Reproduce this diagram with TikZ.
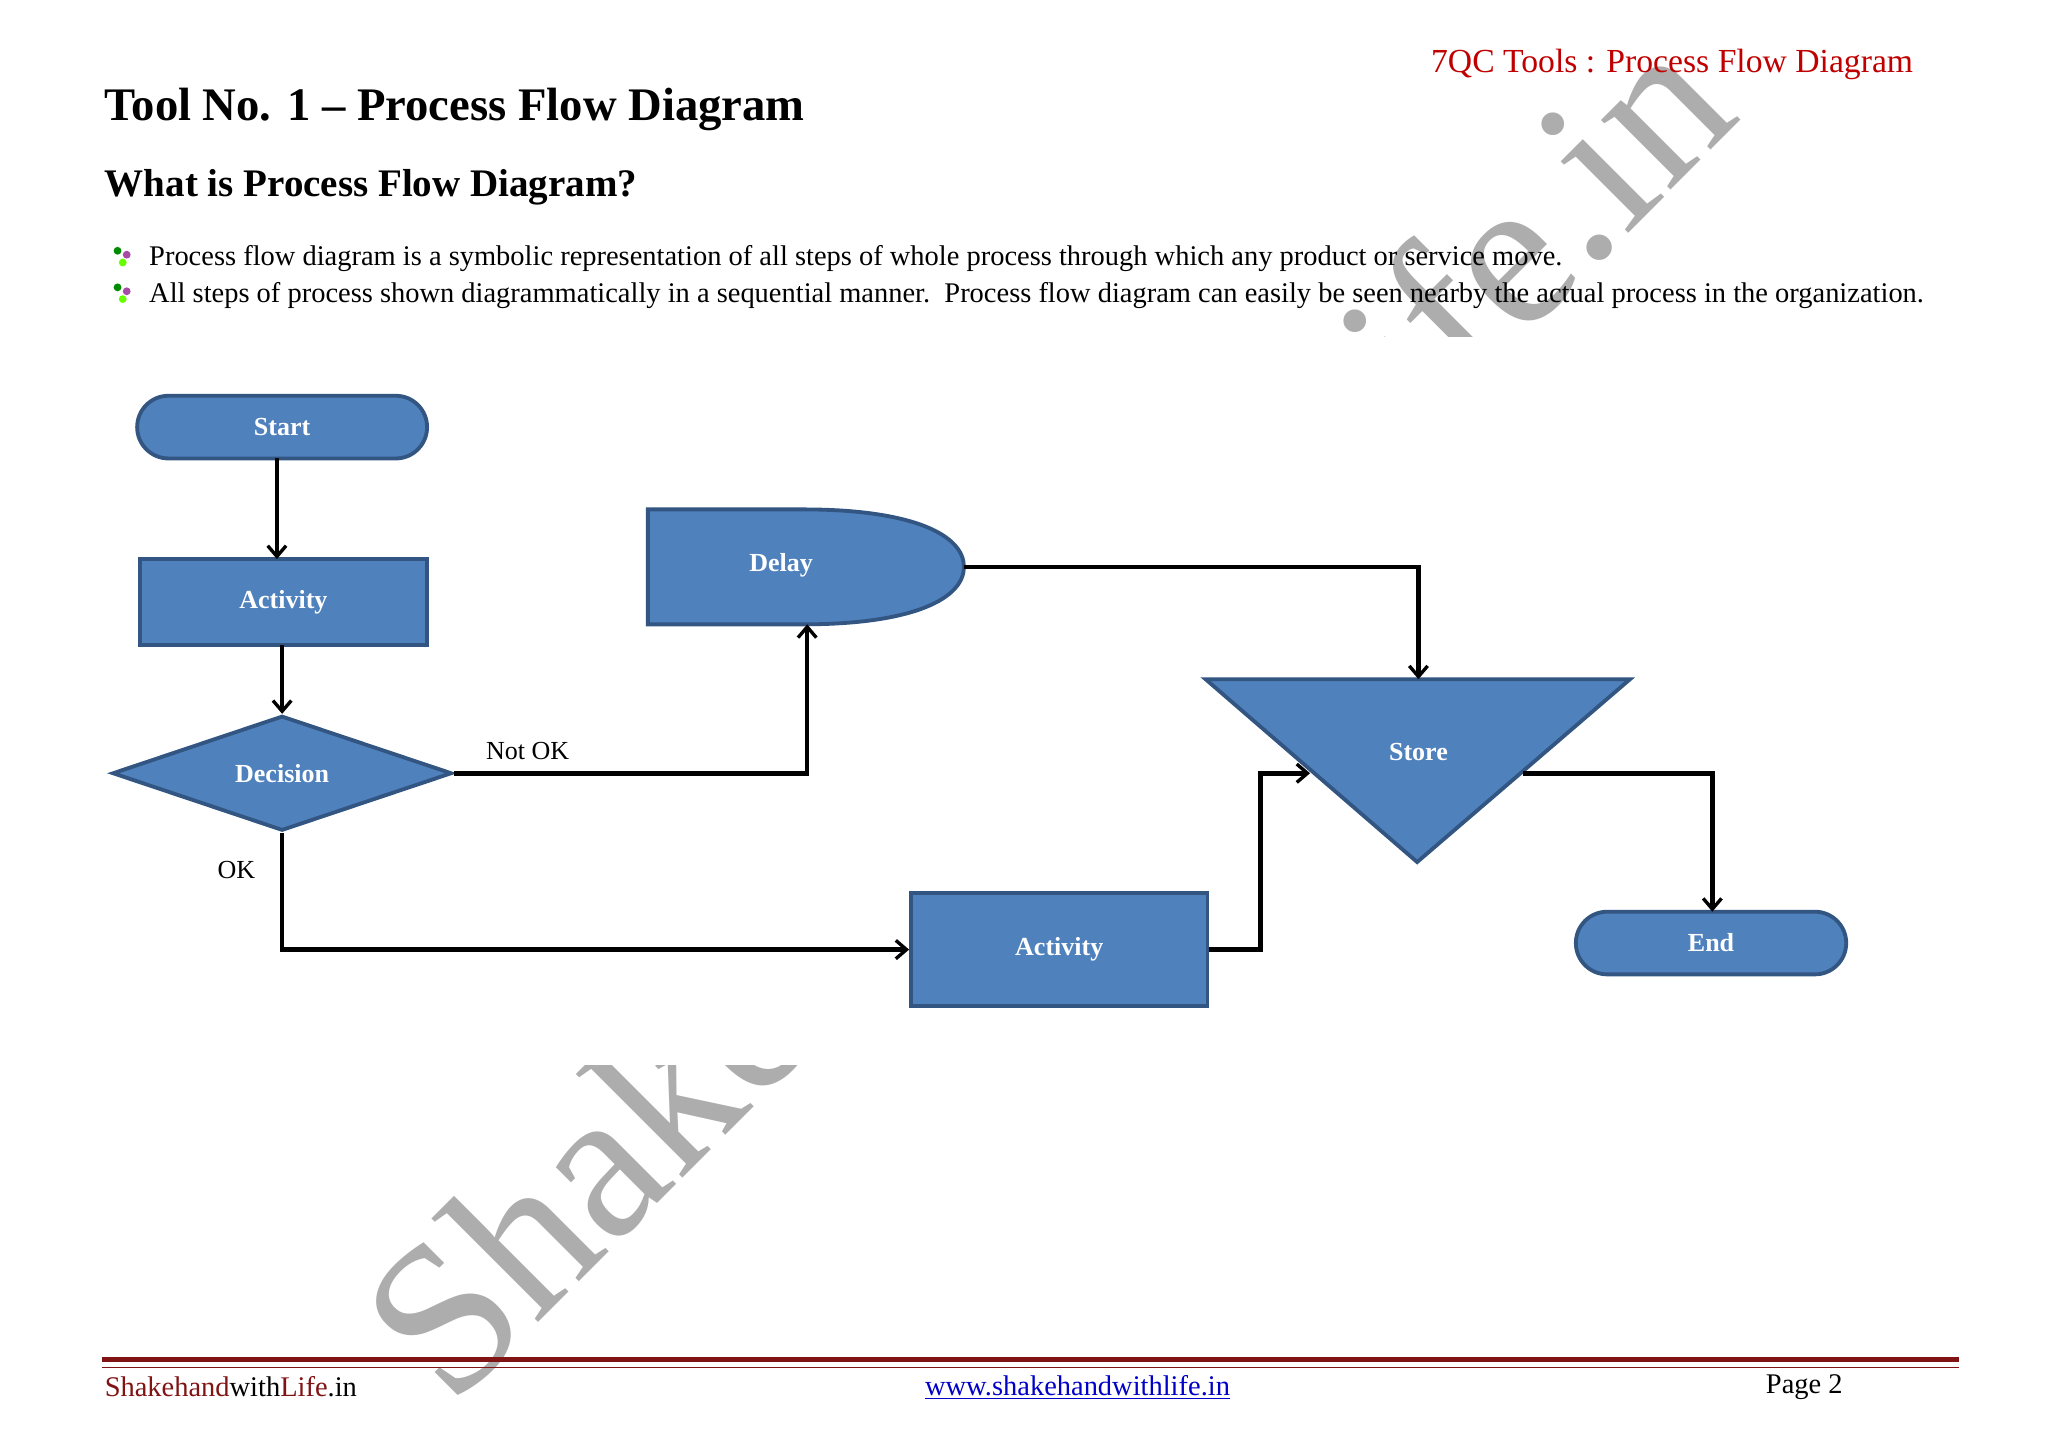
\documentclass[tikz,border=0pt]{standalone}
\usepackage{fontspec}
\setmainfont{Liberation Serif}
\usetikzlibrary{shapes.geometric,shapes.misc,arrows.meta}
\definecolor{bfill}{RGB}{79,129,189}
\definecolor{bdraw}{RGB}{50,85,130}
\definecolor{hred}{RGB}{192,0,0}
\definecolor{fred}{RGB}{128,20,20}
\definecolor{ulink}{RGB}{0,0,200}
\tikzset{
 x=0.03cm,y=-0.03cm,
 blk/.style={fill=bfill,draw=bdraw,line width=2.5pt,text=white,font=\fontsize{17}{19}\selectfont\bfseries,inner sep=0pt},
 conn/.style={line width=3pt,-{Straight Barb[length=7pt,width=12pt,line width=2.2pt]}},
 body/.style={font=\fontsize{18.6}{21}\selectfont,anchor=west,inner sep=0pt}
}
\begin{document}
\begin{tikzpicture}
\useasboundingbox[fill=white] (0,0) rectangle (1568,1108);
% watermark
\node[rotate=45,text=black!32,font=\fontsize{140}{140}\selectfont] (wm) at (800,545) {Shakehandwithlife.in};
\fill[white] (75,258) rectangle (1510,815);
% header
\node[anchor=east,text=hred,font=\fontsize{22}{24}\selectfont,inner sep=0pt] (hdr) at (1465,49) {7QC Tools : Process Flow Diagram};
\node[anchor=west,font=\fontsize{30.5}{32}\selectfont\bfseries,inner sep=0pt] (ttl) at (80,84) {Tool No. 1 – Process Flow Diagram};
\node[anchor=west,font=\fontsize{25.5}{28}\selectfont\bfseries,inner sep=0pt] (sub) at (80,143) {What is Process Flow Diagram?};
\foreach \yy in {197,225}{
 \fill[green!55!black] (90,\yy-5) circle (3);
 \fill[violet!70] (97,\yy-2) circle (3);
 \fill[green!60!yellow] (94,\yy+4) circle (3);
}
\node[body] (t1) at (114,198) {Process flow diagram is a symbolic representation of all steps of whole process through which any product or service move.};
\node[body] (t2) at (114,226) {All steps of process shown diagrammatically in a sequential manner.\ \ Process flow diagram can easily be seen nearby the actual process in the organization.};
% shapes
\node[blk,rounded rectangle,minimum width=6.66cm,minimum height=1.44cm] (start) at (216,327) {Start};
\node[blk,rectangle,minimum width=6.6cm,minimum height=1.98cm] (act1) at (217,461) {Activity};
\node[blk,diamond,aspect=3,minimum width=7.8cm,minimum height=2.64cm] (dec) at (216,592) {Decision};
\draw[blk] (496,390) -- (615,390) .. controls (700,390) and (738,410) .. (738,434) .. controls (738,458) and (700,478) .. (615,478) -- (496,478) -- cycle;
\node[text=white,font=\fontsize{17}{19}\selectfont\bfseries] (delay) at (598,433) {Delay};
\coordinate (delayR) at (738,434);
\coordinate (delayB) at (618,478);
\draw[blk] (923,520) -- (1248,520) -- (1085,660) -- cycle;
\node[text=white,font=\fontsize{17}{19}\selectfont\bfseries] (store) at (1086,576) {Store};
\coordinate (storeT) at (1086,520);
\coordinate (storeL) at (1003,592);
\coordinate (storeR) at (1166,592);
\node[blk,rectangle,minimum width=6.81cm,minimum height=2.58cm] (act2) at (811,727) {Activity};
\node[blk,rounded rectangle,minimum width=6.21cm,minimum height=1.44cm] (end) at (1310,722) {End};
% connectors
\draw[conn] (212,351) -- (212,428);
\draw[conn] (216,494) -- (dec.north);
\draw[conn] (dec.east) -- (delayB |- dec.east) -- (delayB);
\draw[conn] (dec.south) |- (act2.west);
\draw[conn] (delayR) -| (storeT);
\draw[conn] (act2.east) -- (965,727) |- (storeL);
\draw[conn] (storeR) -| (1311,698);
\node[font=\fontsize{17}{19}\selectfont] (nok) at (404,575) {Not OK};
\node[font=\fontsize{17}{19}\selectfont] (ok) at (181,666) {OK};
% footer
\draw[fred,line width=3pt] (78,1041) -- (1500,1041);
\draw[fred,line width=0.6pt] (78,1047) -- (1500,1047);
\node[body] (f1) at (80,1062) {\textcolor{fred}{Shakehand}with\textcolor{fred}{Life}.in};
\node[font=\fontsize{18.6}{21}\selectfont,text=ulink,inner sep=0pt] (f2) at (825,1062) {\underline{www.shakehandwithlife.in}};
\node[font=\fontsize{18.6}{21}\selectfont,anchor=east,inner sep=0pt] (f3) at (1411,1062) {Page 2};
\end{tikzpicture}
\end{document}
